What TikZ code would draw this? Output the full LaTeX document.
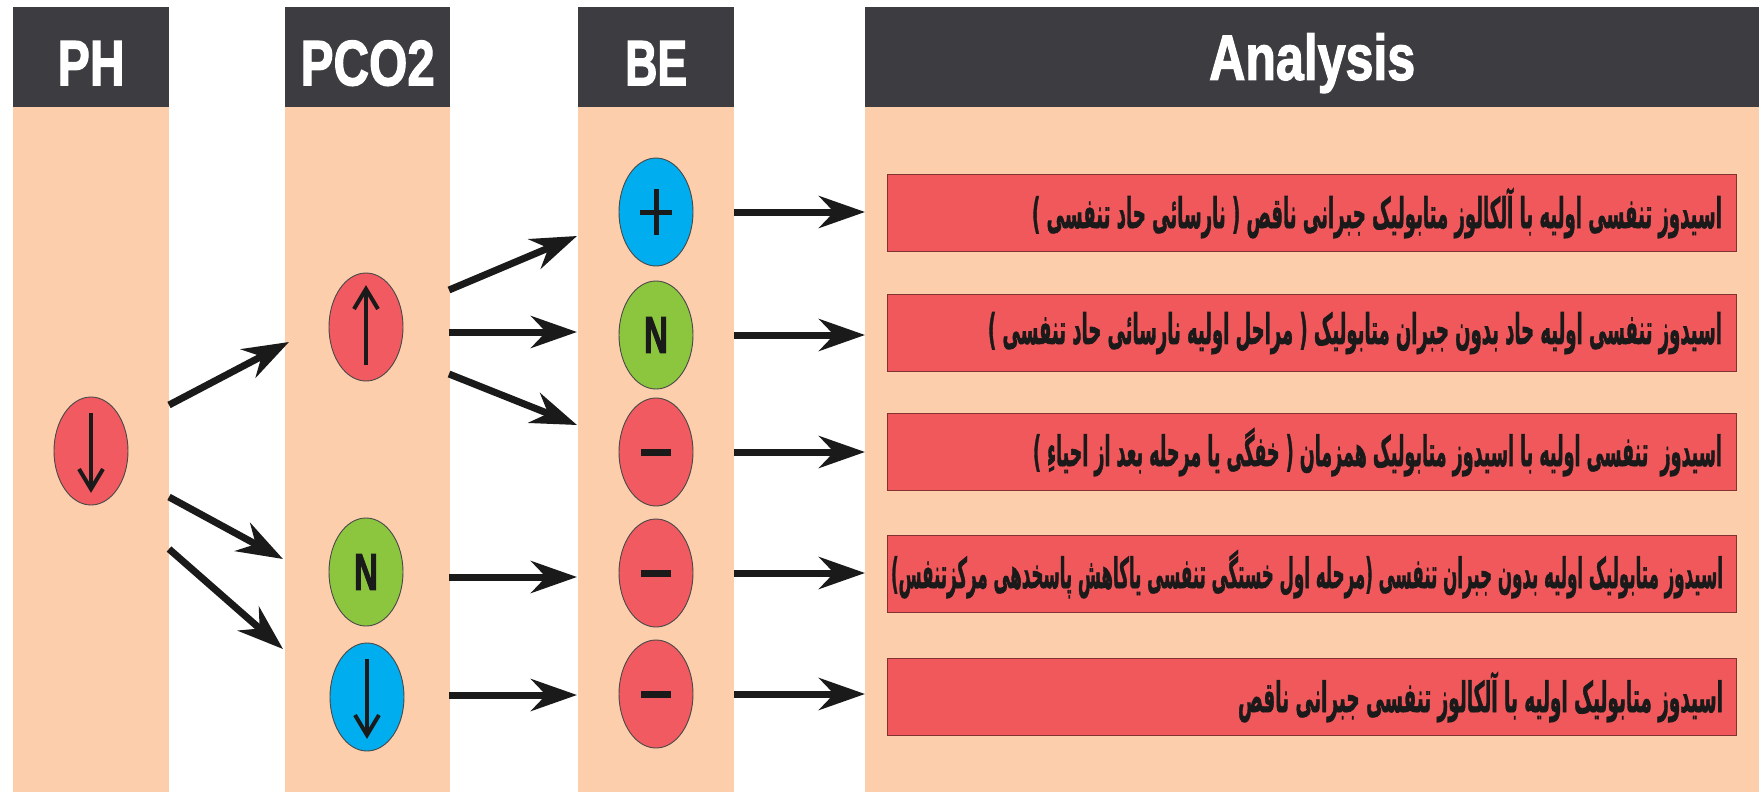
\documentclass[tikz,border=0pt]{standalone}
\usepackage{fontspec}
\usepackage{graphicx}
\setmainfont{Liberation Sans}
\newfontfamily\headfont{Liberation Sans}[FakeBold=2.2]
\newfontfamily\fafont[Script=Arabic,FakeBold=1.8]{DejaVu Sans}
\TeXXeTstate=1
\usetikzlibrary{arrows.meta,calc,shapes.geometric}

\definecolor{headgray}{RGB}{61,60,65}
\definecolor{peach}{RGB}{252,206,172}
\definecolor{ovalred}{RGB}{240,90,96}
\definecolor{ovalblue}{RGB}{0,173,238}
\definecolor{ovalgreen}{RGB}{140,198,63}
\definecolor{boxred}{RGB}{240,88,92}
\definecolor{boxedge}{RGB}{130,50,50}
\definecolor{ink}{RGB}{26,26,26}

% squeeze a line of text to a given width, keeping its height
\newcommand\fitwidth[2]{\resizebox{#1}{\height}{#2}}

\tikzset{
  colbody/.style={fill=peach, draw=none, inner sep=0pt, anchor=north west, minimum height=685pt},
  colhead/.style={fill=headgray, draw=none, inner sep=0pt, anchor=north west, minimum height=100pt},
  headlabel/.style={text=white, inner sep=0pt, font=\headfont\bfseries\fontsize{64}{66}\selectfont},
  oval/.style={ellipse, draw=ink!80, line width=0.9pt, minimum width=74pt, minimum height=108pt, inner sep=0pt},
  redoval/.style={oval, fill=ovalred},
  blueoval/.style={oval, fill=ovalblue},
  greenoval/.style={oval, fill=ovalgreen, font=\headfont\bfseries\fontsize{52}{54}\selectfont, text=ink},
  resultbox/.style={fill=boxred, draw=boxedge, line width=1.2pt, anchor=north west, minimum width=849pt, minimum height=77pt, inner sep=0pt},
  resulttext/.style={anchor=east, inner sep=0pt, text=ink, font=\fafont\bfseries\fontsize{42}{44}\selectfont},
  flow/.style={draw=ink, line width=7pt, -{Stealth[length=46pt, width=32pt, inset=15pt]}},
  symline/.style={draw=ink, line width=4pt, line cap=butt, line join=miter},
  plusline/.style={draw=ink, line width=5pt},
  minus/.style={draw=ink, line width=7pt}
}

\begin{document}
\begin{tikzpicture}[x=1pt, y=-1pt]
\useasboundingbox (0,0) rectangle (1763,792);
\fill[white] (0,0) rectangle (1763,792);

% column bodies
\node[colbody, minimum width=156pt] (colPH) at (13,107) {};
\node[colbody, minimum width=165pt] (colPC) at (285,107) {};
\node[colbody, minimum width=156pt] (colBE) at (578,107) {};
\node[colbody, minimum width=894pt] (colAN) at (865,107) {};

% column headers
\node[colhead, minimum width=156pt] (hPH) at (13,7) {};
\node[colhead, minimum width=165pt] (hPC) at (285,7) {};
\node[colhead, minimum width=156pt] (hBE) at (578,7) {};
\node[colhead, minimum width=894pt] (hAN) at (865,7) {};

\node[headlabel] (tPH) at ($(hPH.center)+(0,6)$) {\fitwidth{67pt}{PH}};
\node[headlabel] (tPC) at ($(hPC.center)+(0,6)$) {\fitwidth{134pt}{PCO2}};
\node[headlabel] (tBE) at ($(hBE.center)+(0,6)$) {\fitwidth{62pt}{BE}};
\node[headlabel] (tAN) at ($(hAN.center)+(0,6)$) {\fitwidth{206pt}{Analysis}};

% pH
\node[redoval] (ph) at (91,451) {};
% PCO2
\node[redoval] (pUp) at (366,327) {};
\node[greenoval] (pN) at (366,572) {\fitwidth{24pt}{N}};
\node[blueoval] (pDown) at (367,697) {};
% BE
\node[blueoval] (b1) at (656,212) {};
\node[greenoval] (b2) at (656,335) {\fitwidth{24pt}{N}};
\node[redoval] (b3) at (656,452) {};
\node[redoval] (b4) at (656,573) {};
\node[redoval] (b5) at (656,694) {};

% symbols inside the ovals
\draw[symline] ($(ph)+(0,-38)$) -- ($(ph)+(0,38)$);
\draw[symline] ($(ph)+(-12,18)$) -- ($(ph)+(0,38)$) -- ($(ph)+(12,18)$);
\draw[symline] ($(pUp)+(0,38)$) -- ($(pUp)+(0,-38)$);
\draw[symline] ($(pUp)+(-12,-18)$) -- ($(pUp)+(0,-38)$) -- ($(pUp)+(12,-18)$);
\draw[symline] ($(pDown)+(0,-38)$) -- ($(pDown)+(0,38)$);
\draw[symline] ($(pDown)+(-12,18)$) -- ($(pDown)+(0,38)$) -- ($(pDown)+(12,18)$);
\draw[plusline] ($(b1)+(-16,0)$) -- ($(b1)+(16,0)$);
\draw[plusline] ($(b1)+(0,-23)$) -- ($(b1)+(0,23)$);
\foreach \m in {b3,b4,b5}{\draw[minus] ($(\m)+(-15,0)$) -- ($(\m)+(15,0)$);}

% result boxes
\node[resultbox] (box1) at (887,174) {};
\node[resultbox] (box2) at (887,294) {};
\node[resultbox] (box3) at (887,413) {};
\node[resultbox] (box4) at (887,535) {};
\node[resultbox] (box5) at (887,658) {};

\node[resulttext] (r1) at ($(box1.east)+(-15,0)$) {\fitwidth{690pt}{\beginR اسیدوز تنفسی اولیه با آلکالوز متابولیک جبرانی ناقص ( نارسائی حاد تنفسی )\endR}};
\node[resulttext] (r2) at ($(box2.east)+(-15,0)$) {\fitwidth{734pt}{\beginR اسیدوز تنفسی اولیه حاد بدون جبران متابولیک ( مراحل اولیه نارسائی حاد تنفسی )\endR}};
\node[resulttext] (r3) at ($(box3.east)+(-15,0)$) {\fitwidth{689pt}{\beginR اسیدوز\ \ تنفسی اولیه با اسیدوز متابولیک همزمان ( خفگی یا مرحله بعد از احیاءِ )\endR}};
\node[resulttext] (r4) at ($(box4.east)+(-14,0)$) {\fitwidth{832pt}{\beginR اسیدوز متابولیک اولیه بدون جبران تنفسی (مرحله اول خستگی تنفسی یاکاهش پاسخدهی مرکزتنفس)\endR}};
\node[resulttext] (r5) at ($(box5.east)+(-14,0)$) {\fitwidth{485pt}{\beginR اسیدوز متابولیک اولیه با آلکالوز تنفسی جبرانی ناقص\endR}};

% connector end points on the column edges
\coordinate (s1) at (169,405);  \coordinate (e1) at (289,342);
\coordinate (s2) at (169,497);  \coordinate (e2) at (283,559);
\coordinate (s3) at (169,549);  \coordinate (e3) at (283,649);
\coordinate (s4) at (449,290);  \coordinate (e4) at (577,236);
\coordinate (s5) at (449,332);  \coordinate (e5) at (577,332);
\coordinate (s6) at (449,374);  \coordinate (e6) at (577,425);
\coordinate (s7) at (449,577);  \coordinate (e7) at (577,577);
\coordinate (s8) at (449,695);  \coordinate (e8) at (577,695);

% pH -> PCO2
\draw[flow] (s1) -- (e1);
\draw[flow] (s2) -- (e2);
\draw[flow] (s3) -- (e3);
% PCO2 -> BE
\draw[flow] (s4) -- (e4);
\draw[flow] (s5) -- (e5);
\draw[flow] (s6) -- (e6);
\draw[flow] (s7) -- (e7);
\draw[flow] (s8) -- (e8);
% BE -> analysis
\foreach \i in {1,...,5}{
  \draw[flow] (b\i -| colBE.east) -- (b\i -| colAN.west);
}
\end{tikzpicture}
\end{document}
